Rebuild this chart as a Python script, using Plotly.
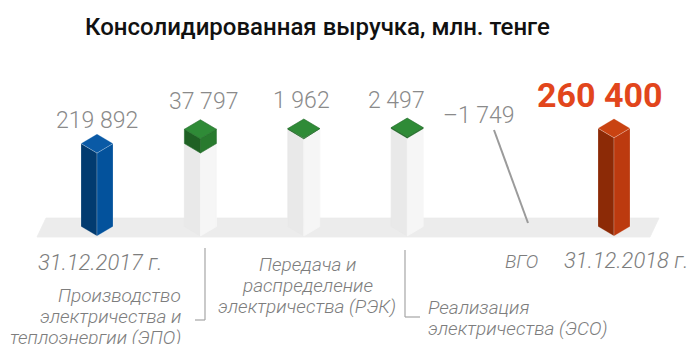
import plotly.graph_objects as go

W, H = 695, 344

# ---- data -------------------------------------------------------------
categories = ["31.12.2017 г.", "ЭПО", "РЭК", "ЭСО", "ВГО", "31.12.2018 г."]
values = [219892, 37797, 1962, 2497, -1749, 260400]
value_labels = ["219 892", "37 797", "1 962", "2 497", "–1 749", "260 400"]
kinds = ["total", "delta", "delta", "delta", "delta", "total"]

# ---- geometry of the pseudo-3D scene ----------------------------------
STEP_PX = 103.4        # pixels between neighbouring categories
FIRST_PX = 97          # pixel column of the first category
ZERO_PX = 236          # pixel row (from top) of the zero line
UNITS_PER_PX = 2650    # value units per vertical pixel

x_range = [-FIRST_PX / STEP_PX, (W - FIRST_PX) / STEP_PX]
y_range = [-(H - ZERO_PX) * UNITS_PER_PX, ZERO_PX * UNITS_PER_PX]

DX = 16 / STEP_PX          # half width of a prism (category units)
DY = 9.5 * UNITS_PER_PX    # isometric rise of the side vertices (value units)

PALETTE = {
    "blue":   dict(left="#023b70", right="#03529c", top="#0a5aa6", edge="rgba(255,255,255,0.35)"),
    "orange": dict(left="#8c2a06", right="#bc3a0f", top="#c94311", edge="rgba(255,255,255,0.35)"),
    "green":  dict(left="#1f6124", right="#287a2e", top="#2f8b37", edge="#246c2a"),
    "ghost":  dict(left="#e9e9e9", right="#f6f6f6", top="#f1f1f1", edge=None),
}
total_colors = ["blue", None, None, None, None, "orange"]


def px(x):
    return x / W


def py(y):
    return 1 - y / H


def px2x(p):
    return (p - FIRST_PX) / STEP_PX


def prism_faces(c, lo, hi):
    left = ([c - DX, c, c, c - DX, c - DX], [lo + DY, lo, hi, hi + DY, lo + DY])
    right = ([c, c + DX, c + DX, c, c], [lo, lo + DY, hi + DY, hi, lo])
    top = ([c, c - DX, c, c + DX, c], [hi, hi + DY, hi + 2 * DY, hi + DY, hi])
    return dict(left=left, right=right, top=top)


fig = go.Figure()


def add_face(xs, ys, color, edge=None):
    fig.add_trace(go.Scatter(
        x=xs, y=ys, mode="lines", fill="toself", fillcolor=color,
        line=dict(color=edge or color, width=0.6 if edge else 0.8),
        hoverinfo="skip", showlegend=False))


# floor slab
floor_l, floor_r = px2x(37), px2x(650)
skew = 9 / STEP_PX
floor_top = (ZERO_PX - 218) * UNITS_PER_PX
floor_bot = (ZERO_PX - 237) * UNITS_PER_PX
add_face([floor_l, floor_r, floor_r + skew, floor_l + skew, floor_l],
         [floor_bot, floor_bot, floor_top, floor_top, floor_bot], "#ececec")

# waterfall prisms
running = 0
tops = []
for i, (v, k) in enumerate(zip(values, kinds)):
    if k == "total":
        lo, hi = 0, v
        running = v
        faces = prism_faces(i, lo, hi)
        pal = PALETTE[total_colors[i]]
        for f in ("left", "right", "top"):
            add_face(*faces[f], pal[f], pal["edge"])
        tops.append(hi)
    else:
        lo, hi = running, running + v
        running = hi
        tops.append(max(lo, hi))
        if v < 0:
            continue
        ghost = prism_faces(i, 0, lo)
        for f in ("left", "right", "top"):
            add_face(*ghost[f], PALETTE["ghost"][f])
        faces = prism_faces(i, lo, hi)
        pal = PALETTE["green"]
        for f in ("left", "right", "top"):
            add_face(*faces[f], pal[f], pal["edge"])

# ---- value labels ------------------------------------------------------
label_dx = [0, 3, -2, -11, -32, -14]
label_dy = [33, 37, 38, 37, 22, 43]
last = len(values) - 1
for i, (txt, top) in enumerate(zip(value_labels, tops)):
    big = i == last
    fig.add_annotation(
        x=i, y=top, xref="x", yref="y",
        text=txt, showarrow=False, xanchor="center", yanchor="middle",
        xshift=label_dx[i], yshift=label_dy[i],
        font=dict(family="Roboto", size=34 if big else 23,
                  color="#e2461c" if big else "#8a8a8a",
                  weight=700 if big else 300))

# leader for the small negative adjustment
fig.add_shape(type="line", xref="paper", yref="paper",
              x0=px(494), y0=py(130), x1=px(528), y1=py(223),
              line=dict(color="#9b9b9b", width=2))

# ---- category labels -----------------------------------------------------
cat_font = dict(family="Roboto", size=19, color="#7d7d7d", weight=300, style="italic")
date_font = dict(cat_font, size=22)


def text_at(x, y, s, anchor, font=cat_font):
    fig.add_annotation(x=px(x), y=py(y), xref="paper", yref="paper", text=s,
                       showarrow=False, xanchor=anchor, yanchor="middle", font=font)


text_at(164, 262, "31.12.2017 г.", "right", date_font)
text_at(183, 295, "Производство", "right")
text_at(183, 316, "электричества и", "right")
text_at(183, 337, "теплоэнергии (ЭПО)", "right")
text_at(307, 264, "Передача и", "center")
text_at(307, 285, "распределение", "center")
text_at(307, 306, "электричества (РЭК)", "center")
text_at(426, 307, "Реализация", "left")
text_at(426, 328, "электричества (ЭСО)", "left")
text_at(540, 261, "ВГО", "right")
text_at(562, 260, "31.12.2018 г.", "left", date_font)

# bracket connectors
line_style = dict(color="#a6a6a6", width=1.2)
fig.add_shape(type="line", xref="paper", yref="paper", x0=px(205), y0=py(248), x1=px(205), y1=py(320), line=line_style)
fig.add_shape(type="line", xref="paper", yref="paper", x0=px(195), y0=py(320), x1=px(205), y1=py(320), line=line_style)
fig.add_shape(type="line", xref="paper", yref="paper", x0=px(405), y0=py(250), x1=px(405), y1=py(317), line=line_style)
fig.add_shape(type="line", xref="paper", yref="paper", x0=px(405), y0=py(317), x1=px(420), y1=py(317), line=line_style)

# title
fig.add_annotation(x=px(83), y=py(27), xref="paper", yref="paper",
                   text="Консолидированная выручка, млн. тенге", showarrow=False,
                   xanchor="left", yanchor="middle",
                   font=dict(family="Roboto", size=24, color="#111111", weight=500))

fig.update_layout(
    width=W, height=H, margin=dict(l=0, r=0, t=0, b=0),
    paper_bgcolor="white", plot_bgcolor="white",
    xaxis=dict(range=x_range, visible=False, fixedrange=True),
    yaxis=dict(range=y_range, visible=False, fixedrange=True),
    showlegend=False,
)

fig.write_html("out.html")
